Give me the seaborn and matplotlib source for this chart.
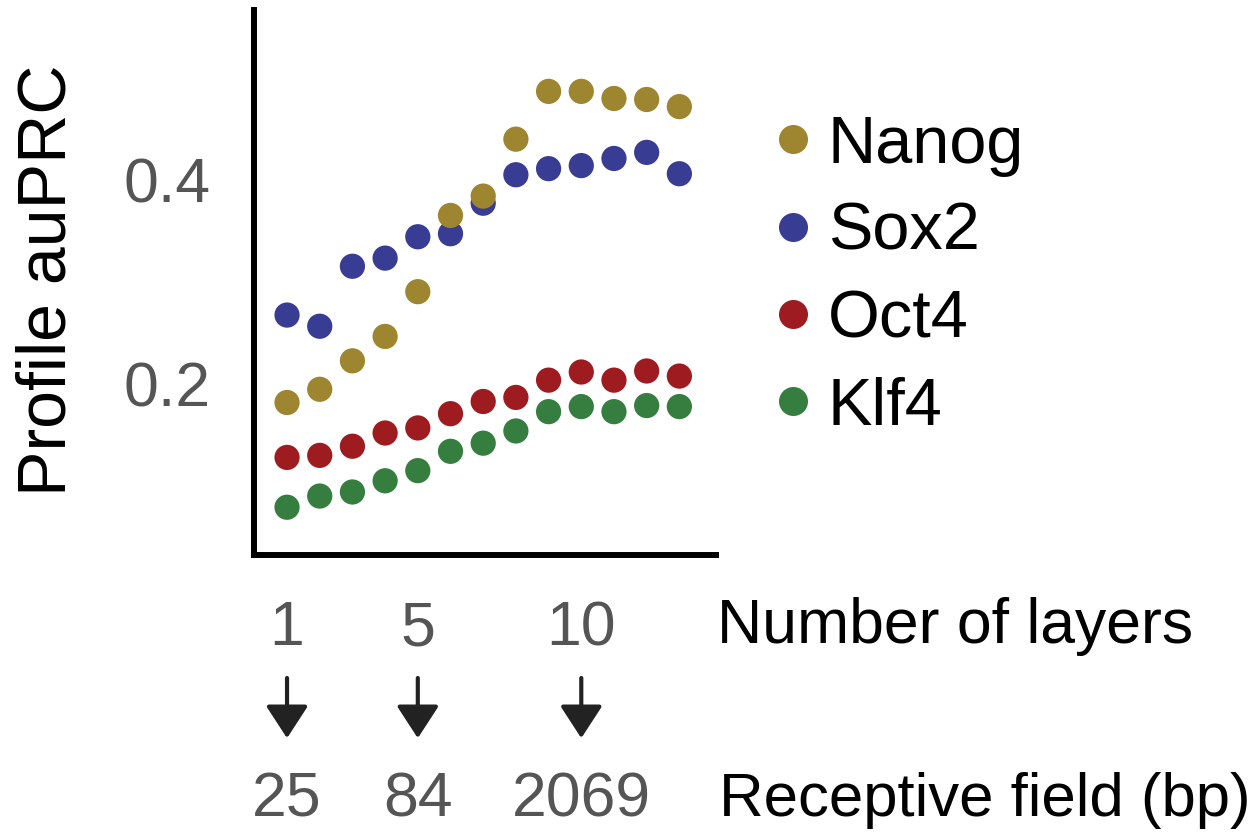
import numpy as np
import pandas as pd
import matplotlib
matplotlib.use("Agg")
import matplotlib.pyplot as plt
import matplotlib.transforms as mtransforms
import seaborn as sns

# Données
layers = list(range(1, 14))
nanog = [0.181, 0.194, 0.222, 0.246, 0.290, 0.365, 0.384, 0.440, 0.487, 0.487, 0.480, 0.479, 0.472]
sox2 = [0.267, 0.256, 0.315, 0.323, 0.344, 0.347, 0.377, 0.405, 0.411, 0.414, 0.421, 0.427, 0.406]
oct4 = [0.127, 0.129, 0.138, 0.151, 0.156, 0.170, 0.182, 0.186, 0.203, 0.211, 0.203, 0.212, 0.207]
klf4 = [0.078, 0.089, 0.093, 0.104, 0.114, 0.133, 0.141, 0.153, 0.172, 0.177, 0.172, 0.178, 0.177]

tf_order = ["Nanog", "Sox2", "Oct4", "Klf4"]
colors = {"Nanog": "#9E8530", "Sox2": "#383C92", "Oct4": "#9E1B1F", "Klf4": "#367D40"}

tick_layers = [1, 5, 10]
receptive_field = ["25", "84", "2069"]

# ordre de tracé : Nanog par-dessus Sox2
draw_order = [("Klf4", klf4), ("Oct4", oct4), ("Sox2", sox2), ("Nanog", nanog)]
df = pd.concat([pd.DataFrame({"layers": layers, "auprc": v, "TF": name})
                for name, v in draw_order], ignore_index=True)

sns.set_style("white")
plt.rcParams["font.family"] = ["Liberation Sans", "DejaVu Sans"]

fig = plt.figure(figsize=(12.55, 8.36), dpi=100)
ax = fig.add_axes([0.2024, 0.3361, 0.3681, 0.6519])

sns.scatterplot(data=df, x="layers", y="auprc", hue="TF", hue_order=tf_order,
                palette=colors, s=330, linewidth=0, edgecolor="none", ax=ax)

ax.set_xlim(-0.01, 14.12)
ax.set_ylim(0.031, 0.567)
ax.set_xticks(tick_layers)
ax.set_yticks([0.2, 0.4])
ax.set_yticklabels(["0.2", "0.4"])
ax.set_xticklabels([str(t) for t in tick_layers])
ax.set_xlabel("")
ax.set_ylabel("")

for side in ["top", "right"]:
    ax.spines[side].set_visible(False)
for side in ["left", "bottom"]:
    ax.spines[side].set_linewidth(4.3)
    ax.spines[side].set_color("black")
ax.tick_params(axis="both", which="major", length=15, width=4.3, color="black",
               labelsize=45, labelcolor="#555555", direction="out")
ax.tick_params(axis="x", pad=17)
ax.tick_params(axis="y", pad=16)

fig.text(0.0375, 0.665, "Profile auPRC", rotation=90, ha="center", va="center",
         fontsize=49, color="black")

# légende
handles, labels = ax.get_legend_handles_labels()
ax.legend(handles, labels, loc="upper left", bbox_to_anchor=(0.616, 0.863),
          bbox_transform=fig.transFigure, frameon=False, fontsize=48,
          markerscale=1.15, handlelength=0.6, handletextpad=0.22,
          labelspacing=0.38, borderpad=0, borderaxespad=0, labelcolor="black")

# annotations sous l'axe des x
fig.text(0.571, 0.251, "Number of layers", ha="left", va="center", fontsize=45, color="black")
fig.text(0.573, 0.043, "Receptive field (bp)", ha="left", va="center", fontsize=44.5, color="black")

trans = mtransforms.blended_transform_factory(ax.transData, fig.transFigure)
for x, rf in zip(tick_layers, receptive_field):
    ax.annotate("", xy=(x, 0.117), xytext=(x, 0.189), xycoords=trans, textcoords=trans,
                arrowprops=dict(arrowstyle="-|>,head_width=0.65,head_length=1.0",
                                color="#222222", lw=3, mutation_scale=20,
                                shrinkA=0, shrinkB=0),
                annotation_clip=False)
    ax.text(x, 0.043, rf, transform=trans, ha="center", va="center",
            fontsize=45, color="#555555")

fig.savefig("out.png", dpi=100)
